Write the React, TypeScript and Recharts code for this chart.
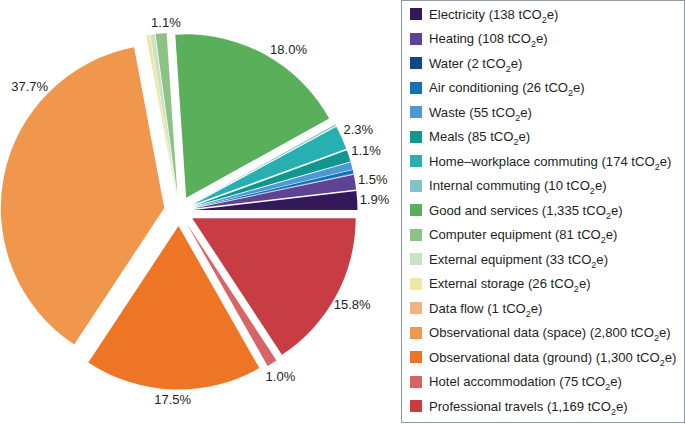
import React from 'react';
import { PieChart, Pie, Cell } from 'recharts';

document.body.style.margin = '0';

const categories = [
  'Electricity', 'Heating', 'Water', 'Air conditioning', 'Waste', 'Meals',
  'Home–workplace commuting', 'Internal commuting', 'Good and services',
  'Computer equipment', 'External equipment', 'External storage', 'Data flow',
  'Observational data (space)', 'Observational data (ground)',
  'Hotel accommodation', 'Professional travels',
];
const emissions = [138, 108, 2, 26, 55, 85, 174, 10, 1335, 81, 33, 26, 1, 2800, 1300, 75, 1169];
const colors = [
  '#33195a', '#5e4394', '#0d4a85', '#1170b8', '#4d9ad3', '#129690',
  '#27afb1', '#84c4c8', '#5aaf5a', '#8cc283', '#cbe2c6', '#ece8a5',
  '#f3b27e', '#f0974d', '#ee7526', '#d86566', '#c83c44',
];

// labels that were nudged off the slice bisector in the original figure
const LABEL_ANGLE: Record<string, number> = {
  'Good and services': 55.3,
  'Computer equipment': 93.8,
  'Observational data (space)': 138,
};

const CX = 179;
const CY = 211;
const R = 163.5;
const EXPLODE = 15;
const FONT = '"Liberation Sans", Arial, Helvetica, sans-serif';
const TEXT = '#231f20';

const total = emissions.reduce((a, b) => a + b, 0);
const cumulative = emissions.reduce<number[]>((acc, v) => [...acc, acc[acc.length - 1] + v], [0]);

const renderLabel = (i: number) => (props: any) => {
  const pct = (emissions[i] / total) * 100;
  if (pct < 0.95) return null;
  const ang = LABEL_ANGLE[categories[i]] ?? props.midAngle;
  const rad = (-ang * Math.PI) / 180;
  const r = props.outerRadius + 4 + 13 * Math.abs(Math.cos(rad)) + 6 * Math.abs(Math.sin(rad));
  return (
    <text
      x={props.cx + r * Math.cos(rad)}
      y={props.cy + r * Math.sin(rad)}
      textAnchor="middle"
      dominantBaseline="central"
      fontSize={13}
      fontFamily={FONT}
      fill={TEXT}
    >
      {pct.toFixed(1)}%
    </text>
  );
};

function LegendBox() {
  return (
    <div
      style={{
        position: 'absolute', left: 401, top: 0, width: 284, height: 423,
        boxSizing: 'border-box', border: '1px solid #8f99a3', paddingTop: 1,
        fontFamily: FONT, fontSize: 13.1, color: TEXT,
      }}
    >
      {categories.map((name, i) => (
        <div key={name} style={{ height: 24.5, display: 'flex', alignItems: 'center', paddingLeft: 8 }}>
          <span style={{ width: 12, height: 12, background: colors[i], display: 'inline-block', marginRight: 7, flexShrink: 0 }} />
          <span style={{ whiteSpace: 'nowrap' }}>
            {name} ({emissions[i].toLocaleString('en-US')} tCO
            <sub style={{ fontSize: 9, lineHeight: 0, verticalAlign: -4 }}>2</sub>e)
          </span>
        </div>
      ))}
    </div>
  );
}

export default function App() {
  return (
    <div style={{ position: 'relative', width: 685, height: 424, overflow: 'hidden', background: '#fff' }}>
      <div style={{ position: 'absolute', left: 0, top: 0 }}>
        <PieChart width={400} height={424} margin={{ top: 0, right: 0, bottom: 0, left: 0 }}>
          {categories.map((name, i) => {
            const start = (cumulative[i] / total) * 360;
            const end = (cumulative[i + 1] / total) * 360;
            const mid = ((start + end) / 2) * (Math.PI / 180);
            return (
              <Pie
                key={name}
                data={[{ name, value: emissions[i] }]}
                dataKey="value"
                nameKey="name"
                cx={CX + EXPLODE * Math.cos(mid)}
                cy={CY - EXPLODE * Math.sin(mid)}
                innerRadius={0}
                outerRadius={R}
                startAngle={start}
                endAngle={end}
                stroke="none"
                labelLine={false}
                label={renderLabel(i)}
                isAnimationActive={false}
              >
                <Cell fill={colors[i]} />
              </Pie>
            );
          })}
        </PieChart>
      </div>
      <LegendBox />
    </div>
  );
}
